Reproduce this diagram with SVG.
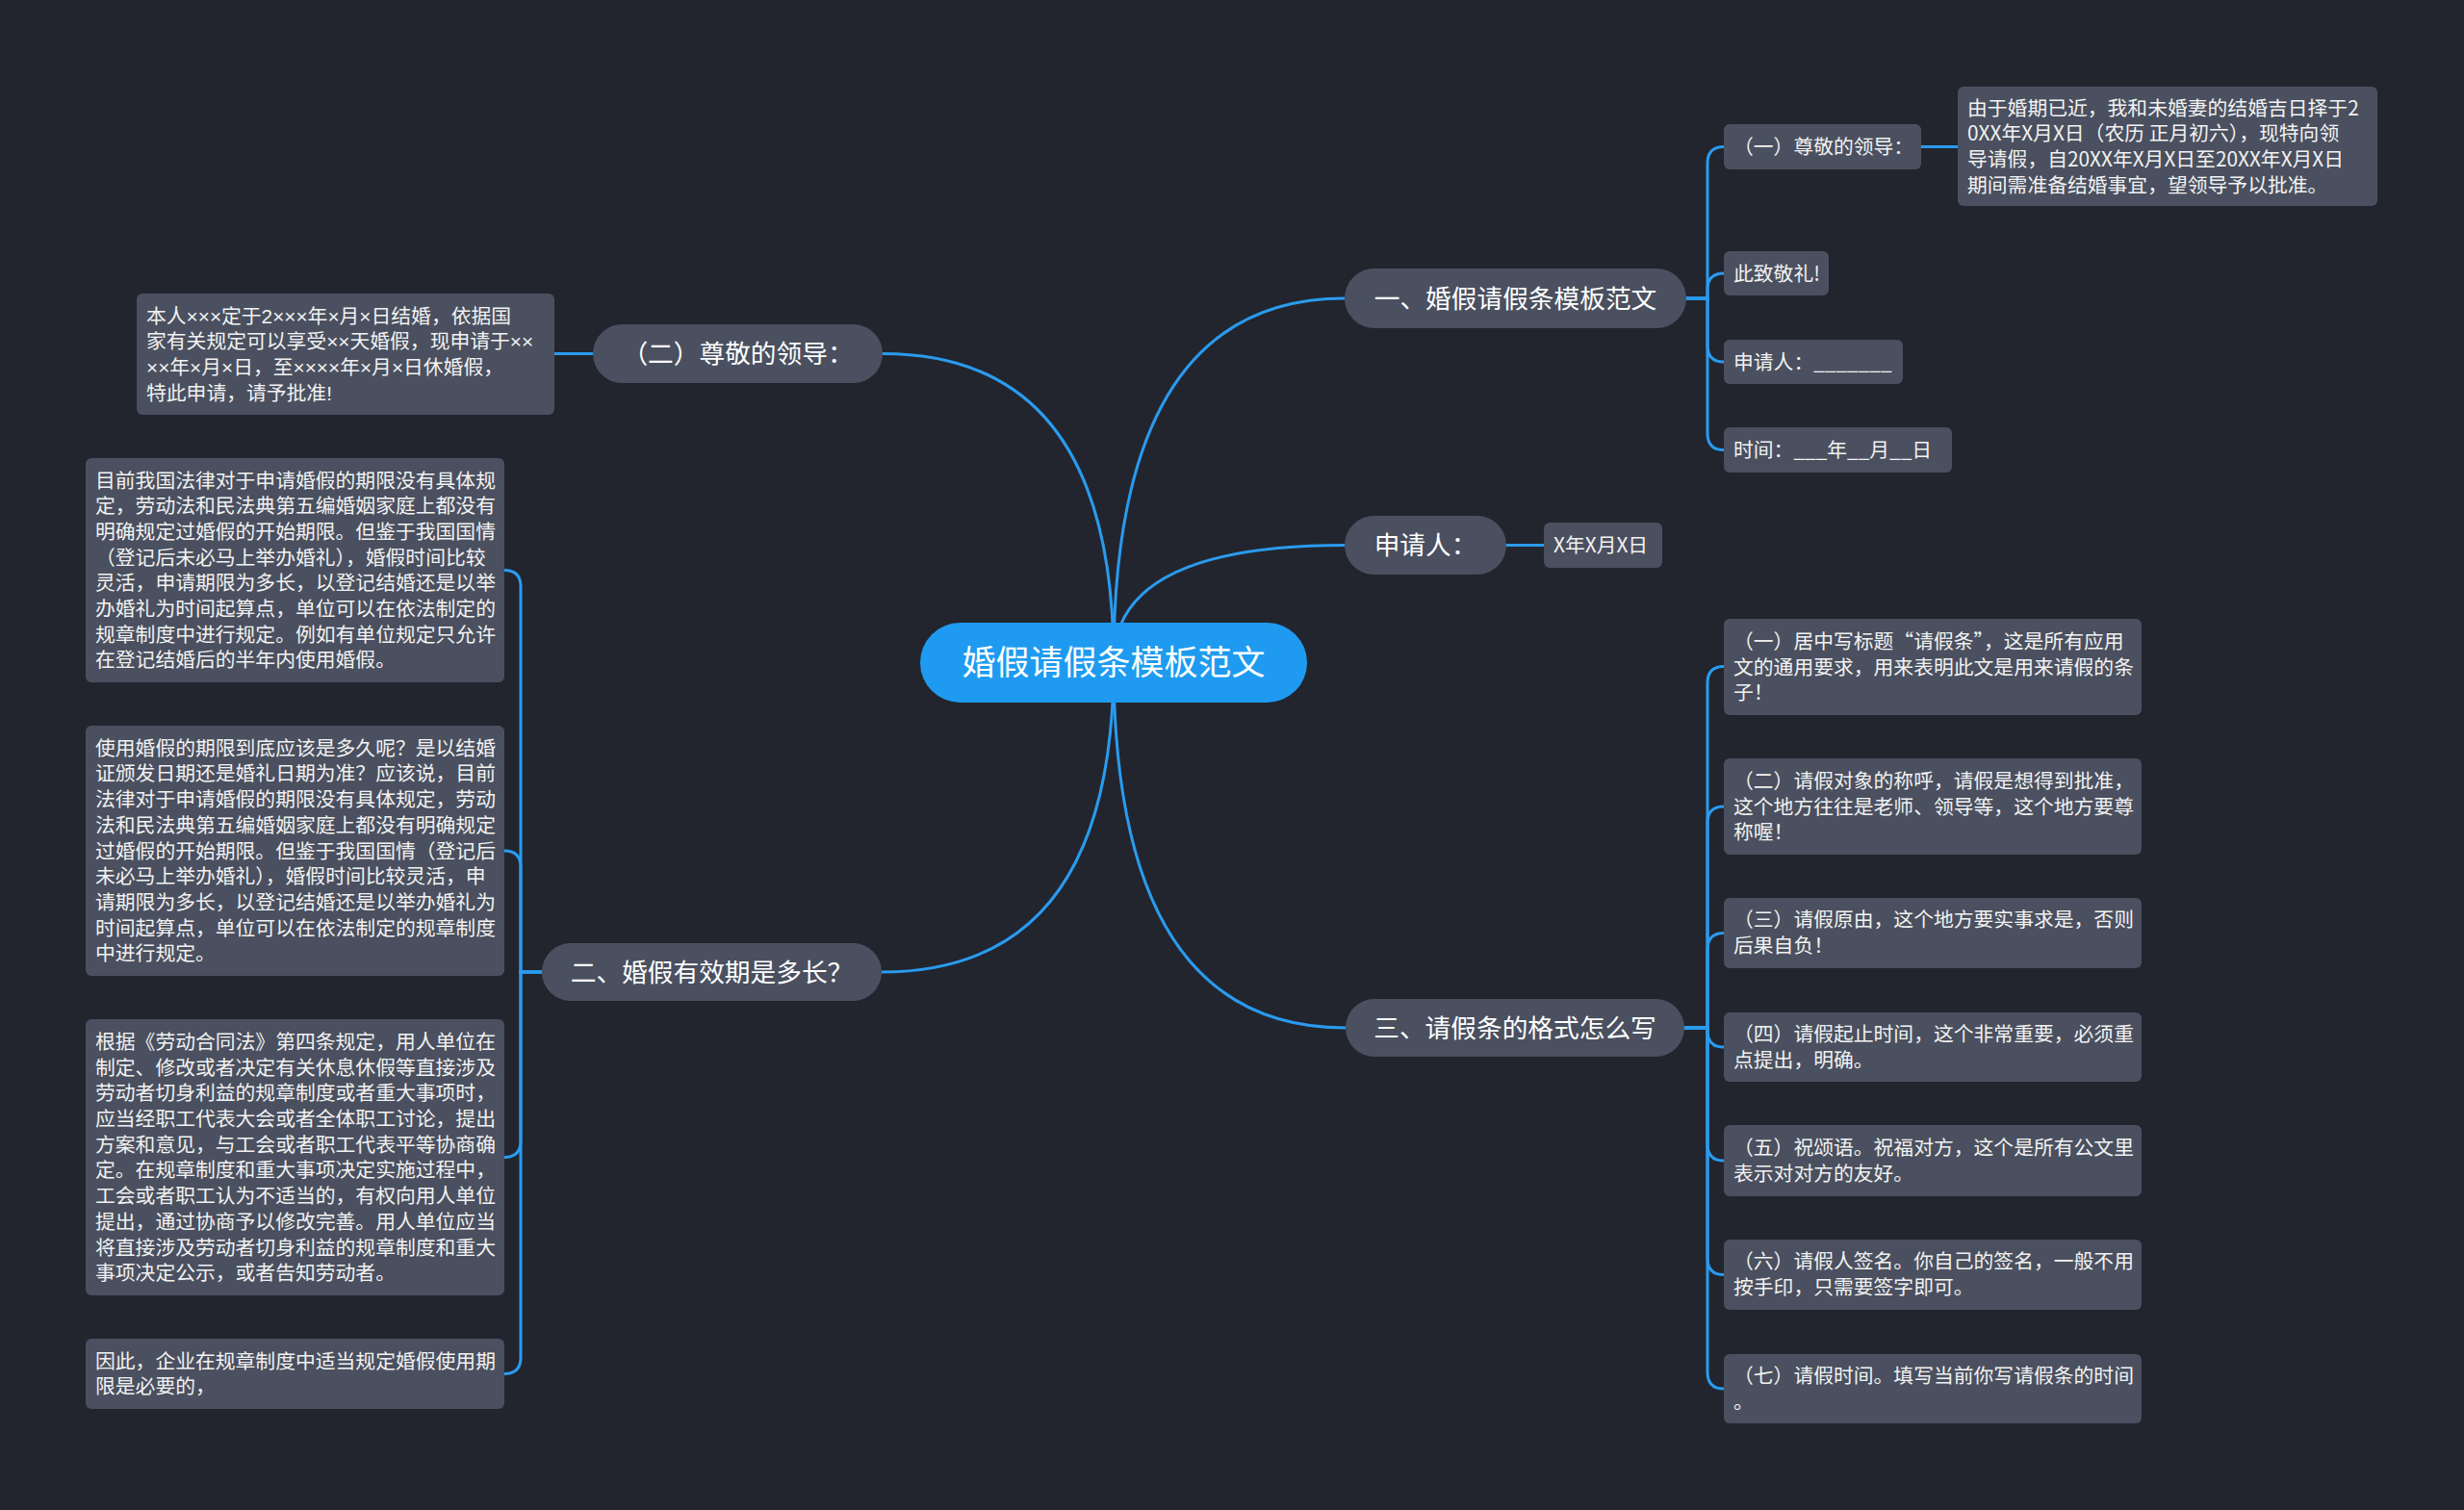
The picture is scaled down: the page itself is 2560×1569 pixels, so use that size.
<svg xmlns="http://www.w3.org/2000/svg" width="2560" height="1569" viewBox="0 0 2560 1569">
<style>
.bg{fill:#22252e}
.main rect{fill:#4a505f}
.leaf rect{fill:#4a505f}
.root rect{fill:#1e9bf0}
text{font-family:"Noto Sans CJK SC","Noto Sans",sans-serif;fill:#ffffff}
.root text{font-size:35px;text-anchor:middle}
.main text{font-size:26.7px;text-anchor:middle}
.leaf text{font-size:20.8px;fill:#f2f2f2}
.leaf text.lat{font-family:"Liberation Sans","Noto Sans CJK SC",sans-serif}
.conn path{fill:none;stroke:#2a9bef;stroke-width:3;stroke-linecap:round}
</style>
<rect class="bg" x="0" y="0" width="2560" height="1569"/>
<g class="conn" id="connectors">
<path d="M1157 688 Q1157 310 1397 310"/>
<path d="M1157 688 Q1157 566.5 1397 566.5"/>
<path d="M1157 688 Q1157 1068 1398 1068"/>
<path d="M1157 688 Q1157 367.5 917 367.5"/>
<path d="M1157 688 Q1157 1010 916 1010"/>
<path d="M1752 310 H1774 V169.5 Q1774 152.5 1791 152.5"/>
<path d="M1752 310 H1774 V301 Q1774 284 1791 284"/>
<path d="M1752 310 H1774 V359 Q1774 376 1791 376"/>
<path d="M1752 310 H1774 V450.5 Q1774 467.5 1791 467.5"/>
<path d="M1996 152.5 H2034"/>
<path d="M1565 566.5 H1604"/>
<path d="M1750 1068 H1774 V709.5 Q1774 692.5 1791 692.5"/>
<path d="M1750 1068 H1774 V855 Q1774 838 1791 838"/>
<path d="M1750 1068 H1774 V986.5 Q1774 969.5 1791 969.5"/>
<path d="M1750 1068 H1774 V1071 Q1774 1088 1791 1088"/>
<path d="M1750 1068 H1774 V1189 Q1774 1206 1791 1206"/>
<path d="M1750 1068 H1774 V1307.5 Q1774 1324.5 1791 1324.5"/>
<path d="M1750 1068 H1774 V1426 Q1774 1443 1791 1443"/>
<path d="M616 367.5 H576"/>
<path d="M563 1010 H541 V609.5 Q541 592.5 524 592.5"/>
<path d="M563 1010 H541 V901 Q541 884 524 884"/>
<path d="M563 1010 H541 V1185.5 Q541 1202.5 524 1202.5"/>
<path d="M563 1010 H541 V1410.5 Q541 1427.5 524 1427.5"/>
</g>

<g class="root" id="root">
<rect x="956" y="647" width="402" height="83" rx="41.5"/>
<text x="1157" y="701">婚假请假条模板范文</text>
</g>

<g class="main" id="n1">
<rect x="1397" y="279" width="355" height="62" rx="31"/>
<text x="1574.5" y="319.6">一、婚假请假条模板范文</text>
</g>
<g class="main" id="n2">
<rect x="1397" y="536" width="168" height="61" rx="30.5"/>
<text x="1481" y="576">申请人：</text>
</g>
<g class="main" id="n3">
<rect x="1398" y="1038" width="352" height="60" rx="30"/>
<text x="1574" y="1077.6">三、请假条的格式怎么写</text>
</g>
<g class="main" id="n4">
<rect x="616" y="337" width="301" height="61" rx="30.5"/>
<text x="766.5" y="377">（二）尊敬的领导：</text>
</g>
<g class="main" id="n5">
<rect x="563" y="980" width="353" height="60" rx="30"/>
<text x="739.5" y="1019.6">二、婚假有效期是多长？</text>
</g>

<g class="leaf" id="n1a">
<rect x="1791" y="129" width="205" height="47" rx="6"/>
<text x="1801" y="160">（一）尊敬的领导：</text>
</g>
<g class="leaf" id="n1a1">
<rect x="2034" y="90" width="436" height="124" rx="6"/>
<text x="2044" y="119.5"><tspan x="2044">由于婚期已近，我和未婚妻的结婚吉日择于2</tspan><tspan x="2044" dy="26.7">0XX年X月X日（农历 正月初六），现特向领</tspan><tspan x="2044" dy="26.7">导请假，自20XX年X月X日至20XX年X月X日</tspan><tspan x="2044" dy="26.7">期间需准备结婚事宜，望领导予以批准。</tspan></text>
</g>
<g class="leaf" id="n1b">
<rect x="1791" y="261" width="109" height="46" rx="6"/>
<text x="1801" y="291.5">此致敬礼!</text>
</g>
<g class="leaf" id="n1c">
<rect x="1791" y="353" width="186" height="46" rx="6"/>
<text x="1801" y="383.5">申请人：_______</text>
</g>
<g class="leaf" id="n1d">
<rect x="1791" y="444" width="237" height="47" rx="6"/>
<text x="1801" y="475">时间：___年__月__日</text>
</g>
<g class="leaf" id="n2a">
<rect x="1604" y="543" width="123" height="47" rx="6"/>
<text x="1614" y="574">X年X月X日</text>
</g>

<g class="leaf" id="n3a">
<rect x="1791" y="643" width="434" height="100" rx="6"/>
<text x="1801" y="673.8"><tspan x="1801">（一）居中写标题“请假条”，这是所有应用</tspan><tspan x="1801" dy="26.7">文的通用要求，用来表明此文是用来请假的条</tspan><tspan x="1801" dy="26.7">子！</tspan></text>
</g>
<g class="leaf" id="n3b">
<rect x="1791" y="788" width="434" height="100" rx="6"/>
<text x="1801" y="818.8"><tspan x="1801">（二）请假对象的称呼，请假是想得到批准，</tspan><tspan x="1801" dy="26.7">这个地方往往是老师、领导等，这个地方要尊</tspan><tspan x="1801" dy="26.7">称喔！</tspan></text>
</g>
<g class="leaf" id="n3c">
<rect x="1791" y="933" width="434" height="73" rx="6"/>
<text x="1801" y="963.3"><tspan x="1801">（三）请假原由，这个地方要实事求是，否则</tspan><tspan x="1801" dy="26.7">后果自负！</tspan></text>
</g>
<g class="leaf" id="n3d">
<rect x="1791" y="1052" width="434" height="72" rx="6"/>
<text x="1801" y="1082.2"><tspan x="1801">（四）请假起止时间，这个非常重要，必须重</tspan><tspan x="1801" dy="26.7">点提出，明确。</tspan></text>
</g>
<g class="leaf" id="n3e">
<rect x="1791" y="1169" width="434" height="74" rx="6"/>
<text x="1801" y="1200.2"><tspan x="1801">（五）祝颂语。祝福对方，这个是所有公文里</tspan><tspan x="1801" dy="26.7">表示对对方的友好。</tspan></text>
</g>
<g class="leaf" id="n3f">
<rect x="1791" y="1288" width="434" height="73" rx="6"/>
<text x="1801" y="1318.3"><tspan x="1801">（六）请假人签名。你自己的签名，一般不用</tspan><tspan x="1801" dy="26.7">按手印，只需要签字即可。</tspan></text>
</g>
<g class="leaf" id="n3g">
<rect x="1791" y="1407" width="434" height="72" rx="6"/>
<text x="1801" y="1437.2"><tspan x="1801">（七）请假时间。填写当前你写请假条的时间</tspan><tspan x="1801" dy="26.7">。</tspan></text>
</g>

<g class="leaf" id="n4a">
<rect x="142" y="305" width="434" height="126" rx="6"/>
<text class="lat" x="152" y="335.5"><tspan x="152">本人×××定于2×××年×月×日结婚，依据国</tspan><tspan x="152" dy="26.7">家有关规定可以享受××天婚假，现申请于××</tspan><tspan x="152" dy="26.7">××年×月×日，至××××年×月×日休婚假，</tspan><tspan x="152" dy="26.7">特此申请，请予批准!</tspan></text>
</g>

<g class="leaf" id="n5a">
<rect x="89" y="476" width="435" height="233" rx="6"/>
<text x="99" y="506.5"><tspan x="99">目前我国法律对于申请婚假的期限没有具体规</tspan><tspan x="99" dy="26.7">定，劳动法和民法典第五编婚姻家庭上都没有</tspan><tspan x="99" dy="26.7">明确规定过婚假的开始期限。但鉴于我国国情</tspan><tspan x="99" dy="26.7">（登记后未必马上举办婚礼），婚假时间比较</tspan><tspan x="99" dy="26.7">灵活，申请期限为多长，以登记结婚还是以举</tspan><tspan x="99" dy="26.7">办婚礼为时间起算点，单位可以在依法制定的</tspan><tspan x="99" dy="26.7">规章制度中进行规定。例如有单位规定只允许</tspan><tspan x="99" dy="26.7">在登记结婚后的半年内使用婚假。</tspan></text>
</g>
<g class="leaf" id="n5b">
<rect x="89" y="754" width="435" height="260" rx="6"/>
<text x="99" y="784.7"><tspan x="99">使用婚假的期限到底应该是多久呢？是以结婚</tspan><tspan x="99" dy="26.7">证颁发日期还是婚礼日期为准？应该说，目前</tspan><tspan x="99" dy="26.7">法律对于申请婚假的期限没有具体规定，劳动</tspan><tspan x="99" dy="26.7">法和民法典第五编婚姻家庭上都没有明确规定</tspan><tspan x="99" dy="26.7">过婚假的开始期限。但鉴于我国国情（登记后</tspan><tspan x="99" dy="26.7">未必马上举办婚礼），婚假时间比较灵活，申</tspan><tspan x="99" dy="26.7">请期限为多长，以登记结婚还是以举办婚礼为</tspan><tspan x="99" dy="26.7">时间起算点，单位可以在依法制定的规章制度</tspan><tspan x="99" dy="26.7">中进行规定。</tspan></text>
</g>
<g class="leaf" id="n5c">
<rect x="89" y="1059" width="435" height="287" rx="6"/>
<text x="99" y="1089.9"><tspan x="99">根据《劳动合同法》第四条规定，用人单位在</tspan><tspan x="99" dy="26.7">制定、修改或者决定有关休息休假等直接涉及</tspan><tspan x="99" dy="26.7">劳动者切身利益的规章制度或者重大事项时，</tspan><tspan x="99" dy="26.7">应当经职工代表大会或者全体职工讨论，提出</tspan><tspan x="99" dy="26.7">方案和意见，与工会或者职工代表平等协商确</tspan><tspan x="99" dy="26.7">定。在规章制度和重大事项决定实施过程中，</tspan><tspan x="99" dy="26.7">工会或者职工认为不适当的，有权向用人单位</tspan><tspan x="99" dy="26.7">提出，通过协商予以修改完善。用人单位应当</tspan><tspan x="99" dy="26.7">将直接涉及劳动者切身利益的规章制度和重大</tspan><tspan x="99" dy="26.7">事项决定公示，或者告知劳动者。</tspan></text>
</g>
<g class="leaf" id="n5d">
<rect x="89" y="1391" width="435" height="73" rx="6"/>
<text x="99" y="1421.6"><tspan x="99">因此，企业在规章制度中适当规定婚假使用期</tspan><tspan x="99" dy="26.7">限是必要的，</tspan></text>
</g>
</svg>
